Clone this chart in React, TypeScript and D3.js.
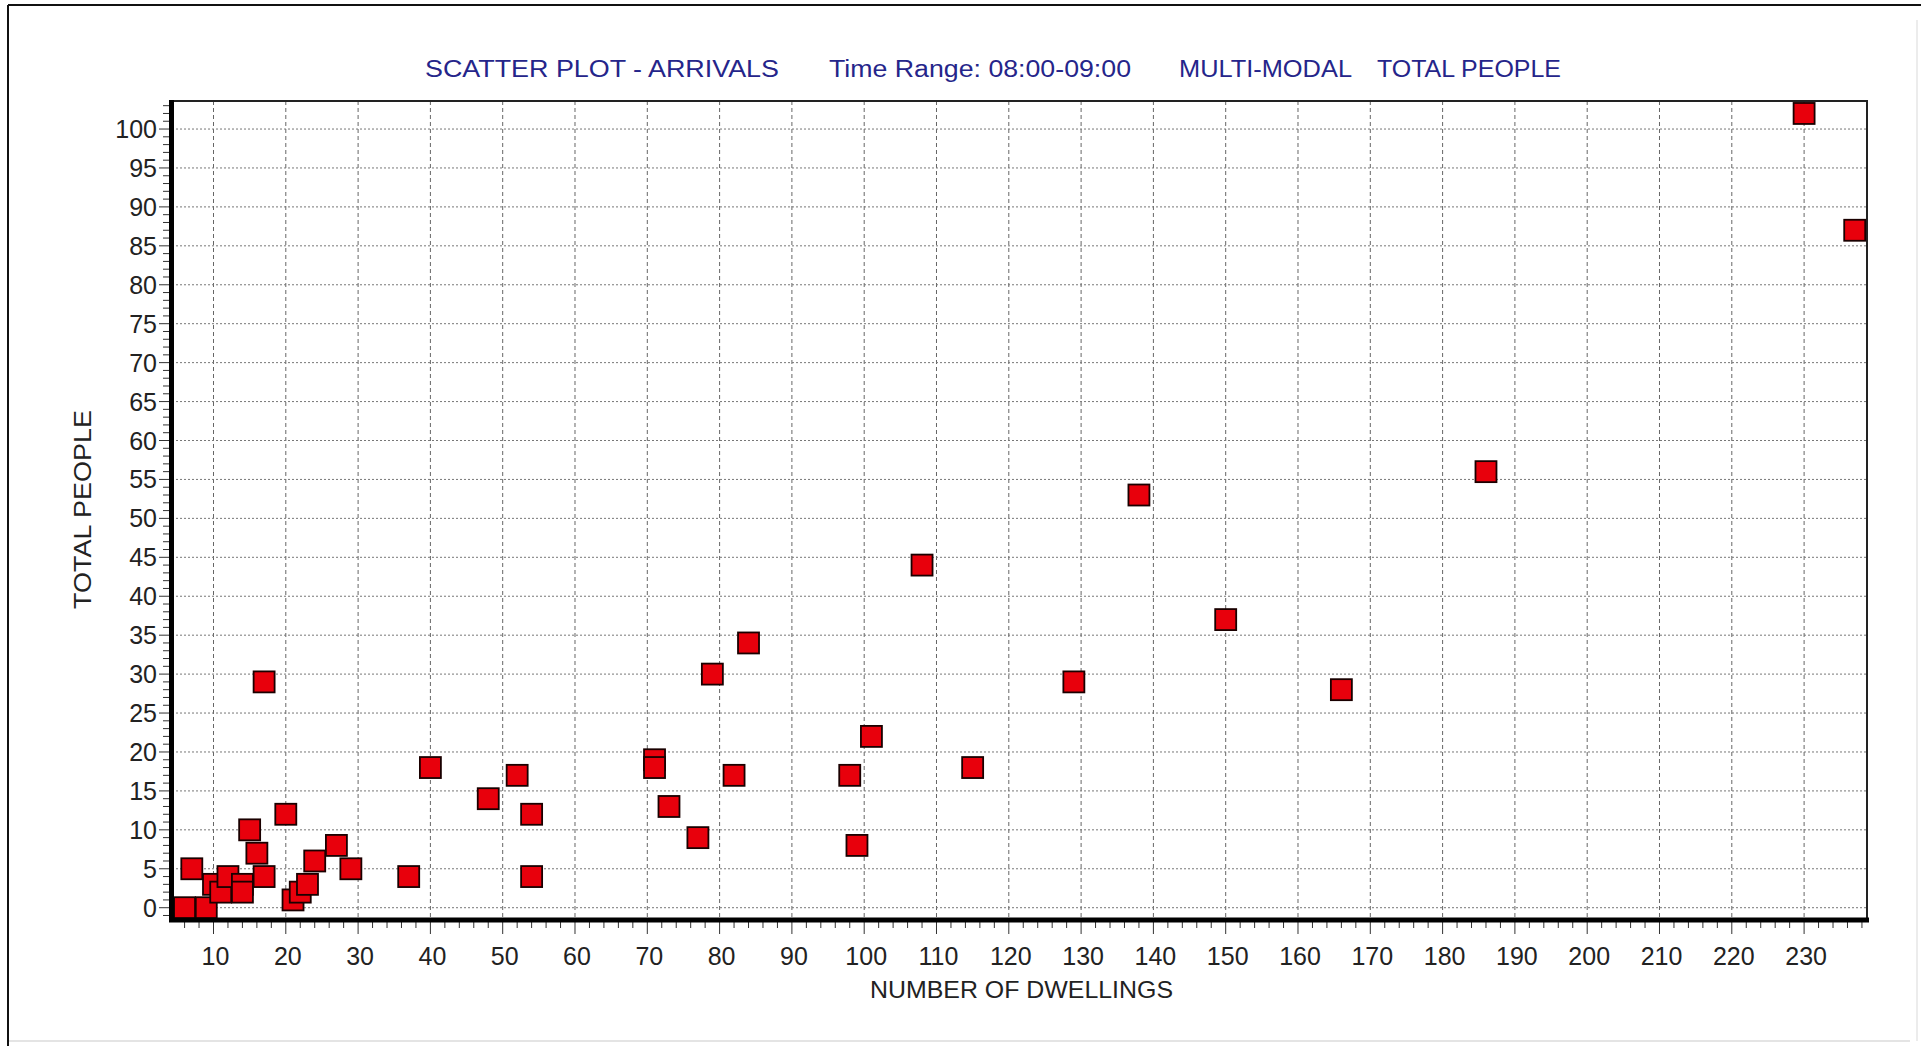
import React from "react";
import * as d3 from "d3";

// ---- data ----
const dwellings = [6, 9, 7, 10, 11, 12, 14, 14, 15, 16, 17, 17, 20, 21, 22, 23, 24, 27, 29, 37, 40, 48, 52, 54, 54, 71, 71, 73, 77, 79, 82, 84, 98, 99, 101, 108, 115, 129, 138, 150, 166, 186, 230, 237];
const people = [0, 0, 5, 3, 2, 4, 3, 2, 10, 7, 4, 29, 12, 1, 2, 3, 6, 8, 5, 4, 18, 14, 17, 12, 4, 19, 18, 13, 9, 30, 17, 34, 17, 8, 22, 44, 18, 29, 53, 37, 28, 56, 102, 87];

const xTicks = d3.range(10, 231, 10);
const yTicks = d3.range(0, 101, 5);
const xMinorTicks = d3.range(6, 239, 2);
const yMinorTicks = d3.range(-1, 104, 1);

const titleParts = [
  { text: "SCATTER PLOT - ARRIVALS", x0: 425, x1: 779 },
  { text: "Time Range: 08:00-09:00", x0: 829, x1: 1131 },
  { text: "MULTI-MODAL", x0: 1179, x1: 1352 },
  { text: "TOTAL PEOPLE", x0: 1377, x1: 1561 },
];

const W = 1921;
const H = 1046;
const plot = { left: 172, right: 1867, top: 101, bottom: 919 };
const FONT = "'Liberation Sans', Arial, sans-serif";

export default function App() {
  const x = d3.scaleLinear().domain([4.26, 238.7]).range([plot.left, plot.right]);
  const y = d3.scaleLinear().domain([-1.45, 103.6]).range([plot.bottom, plot.top]);
  const sq = 21;
  const points = dwellings.map((d, i) => ({ x: d, y: people[i] }));

  return (
    <div style={{ position: "fixed", left: 0, top: 0, width: W, height: H, background: "#fff" }}>
      <svg width={W} height={H} style={{ display: "block" }}>
        <rect x={0} y={0} width={W} height={H} fill="#fff" />
        {/* outer frame */}
        <line x1={8} y1={5} x2={W} y2={5} stroke="#111" strokeWidth={2} />
        <line x1={8} y1={5} x2={8} y2={H} stroke="#111" strokeWidth={2} />
        <line x1={9} y1={1041} x2={1910} y2={1041} stroke="#e4e4e4" strokeWidth={2} />
        <line x1={1917} y1={20} x2={1917} y2={1041} stroke="#ececec" strokeWidth={2} />

        {/* title */}
        {titleParts.map((t) => (
          <text key={t.text} x={t.x0} y={77} fontFamily={FONT} fontSize={23} fill="#25258a"
            textLength={t.x1 - t.x0} lengthAdjust="spacingAndGlyphs">{t.text}</text>
        ))}

        {/* grid */}
        {xTicks.map((t) => (
          <line key={"gx" + t} x1={x(t)} x2={x(t)} y1={plot.top} y2={plot.bottom} stroke="#666" strokeWidth={1} strokeDasharray="4,3" />
        ))}
        {yTicks.map((t) => (
          <line key={"gy" + t} x1={plot.left} x2={plot.right} y1={y(t)} y2={y(t)} stroke="#777" strokeWidth={1} strokeDasharray="2,2" />
        ))}

        {/* top/right borders */}
        <line x1={plot.left} x2={plot.right + 1} y1={plot.top} y2={plot.top} stroke="#222" strokeWidth={2} />
        <line x1={plot.right} x2={plot.right} y1={plot.top} y2={plot.bottom} stroke="#222" strokeWidth={2} />

        {/* minor/major ticks */}
        {yMinorTicks.map((t) => (
          <line key={"ty" + t} x1={t % 5 === 0 ? 159 : 163} x2={170} y1={y(t)} y2={y(t)} stroke="#333" strokeWidth={1} />
        ))}
        {xMinorTicks.map((t) => (
          <line key={"tx" + t} x1={x(t)} x2={x(t)} y1={920} y2={t % 10 === 0 ? 934 : 928} stroke="#333" strokeWidth={1} />
        ))}

        {/* points */}
        {points.map((p, i) => (
          <rect key={i} x={x(p.x) - sq / 2} y={y(p.y) - sq / 2} width={sq} height={sq}
            fill="#e8000c" stroke="#1a0000" strokeWidth={1.8} />
        ))}

        {/* axes */}
        <line x1={171.5} x2={171.5} y1={plot.top - 1} y2={plot.bottom + 3} stroke="#000" strokeWidth={5} />
        <line x1={169} x2={plot.right + 2} y1={920} y2={920} stroke="#000" strokeWidth={5} />

        {/* tick labels */}
        {yTicks.map((t) => (
          <text key={"ly" + t} x={157} y={y(t) + 9} textAnchor="end" fontFamily={FONT} fontSize={25} fill="#222">{t}</text>
        ))}
        {xTicks.map((t) => (
          <text key={"lx" + t} x={x(t) + 2} y={965} textAnchor="middle" fontFamily={FONT} fontSize={25} fill="#222">{t}</text>
        ))}

        {/* axis titles */}
        <text x={870} y={998} fontFamily={FONT} fontSize={24} fill="#222" textLength={303} lengthAdjust="spacingAndGlyphs">NUMBER OF DWELLINGS</text>
        <text x={-609} y={91} transform="rotate(-90)" fontFamily={FONT} fontSize={24} fill="#222" textLength={199} lengthAdjust="spacingAndGlyphs">TOTAL PEOPLE</text>
      </svg>
    </div>
  );
}
